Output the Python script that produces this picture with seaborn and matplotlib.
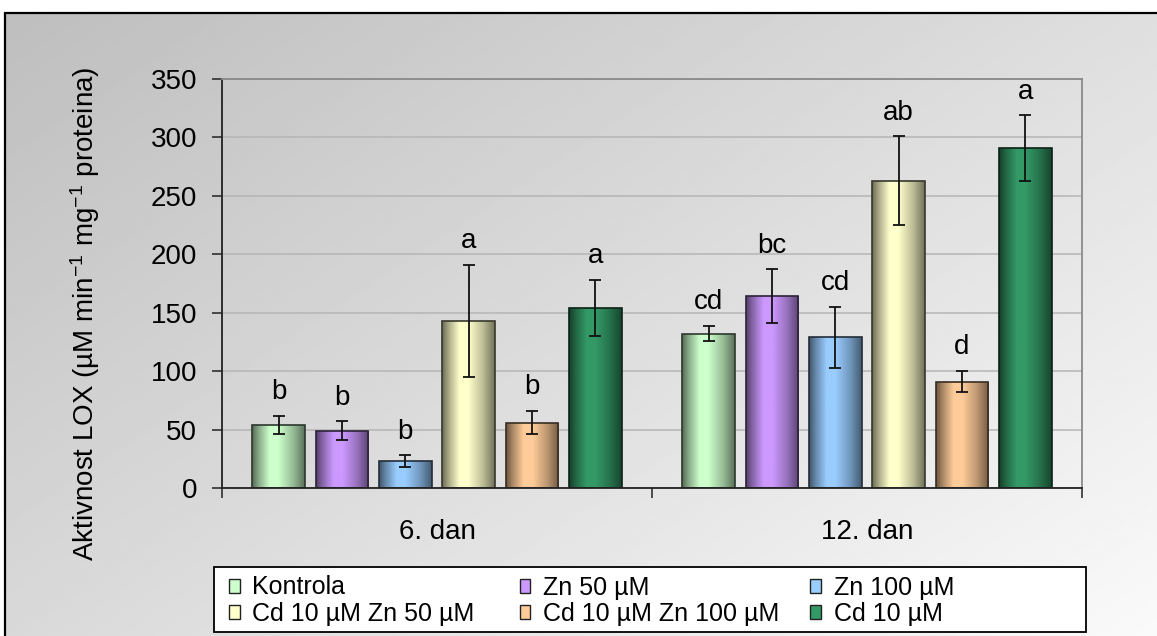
import numpy as np
import pandas as pd
import matplotlib
matplotlib.use("Agg")
import matplotlib.pyplot as plt
import seaborn as sns
from matplotlib.patches import Patch, Rectangle
from matplotlib.colors import to_rgb

# ---------------- data ----------------
days = ["6. dan", "12. dan"]
treatments = ["Kontrola", "Zn 50 µM", "Zn 100 µM",
              "Cd 10 µM Zn 50 µM", "Cd 10 µM Zn 100 µM", "Cd 10 µM"]
means_day6 = [54, 49, 23, 143, 56, 154]
means_day12 = [132, 164, 129, 263, 91, 291]
err_day6 = [8, 8, 5, 48, 10, 24]
err_day12 = [6.5, 23, 26, 38, 9, 28]
letters_day6 = ["b", "b", "b", "a", "b", "a"]
letters_day12 = ["cd", "bc", "cd", "ab", "d", "a"]
colors = ["#CCFFCC", "#CC99FF", "#99CCFF", "#FFFFCC", "#FFCC99", "#339966"]
yticks = [0, 50, 100, 150, 200, 250, 300, 350]
ylabel = "Aktivnost LOX (µM min$^{-1}$ mg$^{-1}$ proteina)"

# ---------------- style ----------------
sns.set_style("white")
plt.rcParams["font.family"] = ["Liberation Sans", "DejaVu Sans"]
plt.rcParams["mathtext.fontset"] = "custom"
plt.rcParams["mathtext.rm"] = "Liberation Sans"
plt.rcParams["mathtext.it"] = "Liberation Sans:italic"
plt.rcParams["mathtext.bf"] = "Liberation Sans:bold"
plt.rcParams["text.color"] = "black"
plt.rcParams["xtick.labelcolor"] = "black"
plt.rcParams["ytick.labelcolor"] = "black"
FS = 20
FS_LEG = 18

W, H = 1157, 636
fig = plt.figure(figsize=(W / 100, H / 100), dpi=100)
fig.patch.set_facecolor("white")

# background gradient inside the outer frame
top_px = 12.5
left_px = 4.5
bg = fig.add_axes([left_px / W, 0, 1.0, 1 - top_px / H], zorder=-10)
yy, xx = np.mgrid[0:1:300j, 0:1:300j]
t = xx * 0.55 + yy * 0.45
bg.imshow(0.745 + t * 0.235, cmap="gray", vmin=0, vmax=1,
          extent=(0, 1, 0, 1), aspect="auto", origin="upper",
          interpolation="bilinear")
bg.set_xlim(0, 1)
bg.set_ylim(0, 1)
bg.axis("off")
fig.add_artist(Rectangle((left_px / W, -0.1), 2.0, 1 - top_px / H + 0.1,
                         transform=fig.transFigure, fill=False,
                         ec="black", lw=1.6, zorder=1))

# ---------------- main axes ----------------
ax = fig.add_axes([222 / W, 1 - 488 / H, 860 / W, 409 / H])
ax.patch.set_alpha(0)

df = pd.DataFrame({
    "day": [d for d in days for _ in treatments],
    "treatment": treatments * len(days),
    "value": means_day6 + means_day12,
})
sns.barplot(data=df, x="day", y="value", hue="treatment", order=days,
            hue_order=treatments, palette=colors, width=0.884, gap=0.165,
            errorbar=None, legend=False, ax=ax, linewidth=1.2)

# cylindrical shading on bars
prof_x = [0, 0.12, 0.33, 0.5, 0.78, 1.0]
prof_f = [0.42, 0.66, 1.0, 1.0, 0.74, 0.45]
xs = np.linspace(0, 1, 80)
fprof = np.interp(xs, prof_x, prof_f)
means_all = [means_day6, means_day12]
errs_all = [err_day6, err_day12]
letters_all = [letters_day6, letters_day12]
for k, (cont, c) in enumerate(zip(ax.containers, colors)):
    rgb = np.array(to_rgb(c))
    grad = (fprof[:, None] * rgb[None, :])[None, :, :]
    centers = []
    for p in cont.patches:
        x0, w = p.get_x(), p.get_width()
        y0, h = p.get_y(), p.get_height()
        im = ax.imshow(grad, extent=(x0, x0 + w, y0, y0 + h), aspect="auto",
                       zorder=1.5, interpolation="bilinear")
        im.set_clip_path(p)
        p.set_facecolor("none")
        p.set_edgecolor(rgb * 0.22)
        p.set_zorder(1.6)
        centers.append(x0 + w / 2)
    m = [means_all[d][k] for d in range(len(days))]
    e = [errs_all[d][k] for d in range(len(days))]
    ax.errorbar(centers, m, yerr=e, fmt="none", ecolor="#111111",
                elinewidth=1.3, capsize=4, capthick=1.3, zorder=3)
    for d in range(len(days)):
        ax.annotate(letters_all[d][k], (centers[d], m[d] + e[d]),
                    xytext=(0, 12), textcoords="offset points",
                    ha="center", va="baseline", fontsize=FS, color="black")

ax.set_xlim(-0.5, 1.5)
ax.set_ylim(0, 350)
ax.set_yticks(yticks)
ax.set_yticklabels([str(v) for v in yticks])
ax.set_xticks(range(len(days)))
ax.set_xticklabels(days)
ax.set_xticks([-0.5, 0.5, 1.5], minor=True)
ax.set_xlabel("")
ax.set_ylabel("")
ax.set_axisbelow(True)
ax.yaxis.grid(True, color="#b5b5b5", lw=1.1)
ax.xaxis.grid(False)
ax.tick_params(axis="y", which="major", direction="out", length=7,
               width=1.1, color="#222222", pad=11, labelsize=FS, left=True,
               labelcolor="black")
ax.tick_params(axis="x", which="major", length=0, pad=22, labelsize=FS,
               labelcolor="black")
ax.tick_params(axis="x", which="minor", direction="out", length=7,
               width=1.1, color="#222222", bottom=True)
for s in ["left", "bottom"]:
    ax.spines[s].set_color("#222222")
    ax.spines[s].set_linewidth(1.3)
for s in ["top", "right"]:
    ax.spines[s].set_color("#8a8a8a")
    ax.spines[s].set_linewidth(1.3)
    ax.spines[s].set_visible(True)

fig.text(85 / W, 1 - 314 / H, ylabel, rotation=90, ha="center",
         va="center", fontsize=FS, color="black")

# ---------------- legend ----------------
lg_left, lg_right, lg_top, lg_bot = 214, 1086, 567, 632
fig.add_artist(Rectangle((lg_left / W, 1 - lg_bot / H),
                         (lg_right - lg_left) / W, (lg_bot - lg_top) / H,
                         transform=fig.transFigure, fc="white", ec="black",
                         lw=1.3, zorder=4))
handles = [Patch(facecolor=c, edgecolor="#222222", linewidth=1.0)
           for c in colors]
slot = (lg_right - lg_left) / 3.0
for col in range(3):
    idx = [col, col + 3]
    leg = fig.legend([handles[i] for i in idx], [treatments[i] for i in idx],
                     loc="center left",
                     bbox_to_anchor=((229 + col * slot) / W, 1 - 600.5 / H),
                     bbox_transform=fig.transFigure, frameon=False,
                     fontsize=FS_LEG,
                     handlelength=0.43, handleheight=0.5, handletextpad=0.5,
                     borderpad=0, borderaxespad=0, labelspacing=0.08)
    for txt in leg.get_texts():
        txt.set_color("black")

fig.savefig("out.png", dpi=100)
